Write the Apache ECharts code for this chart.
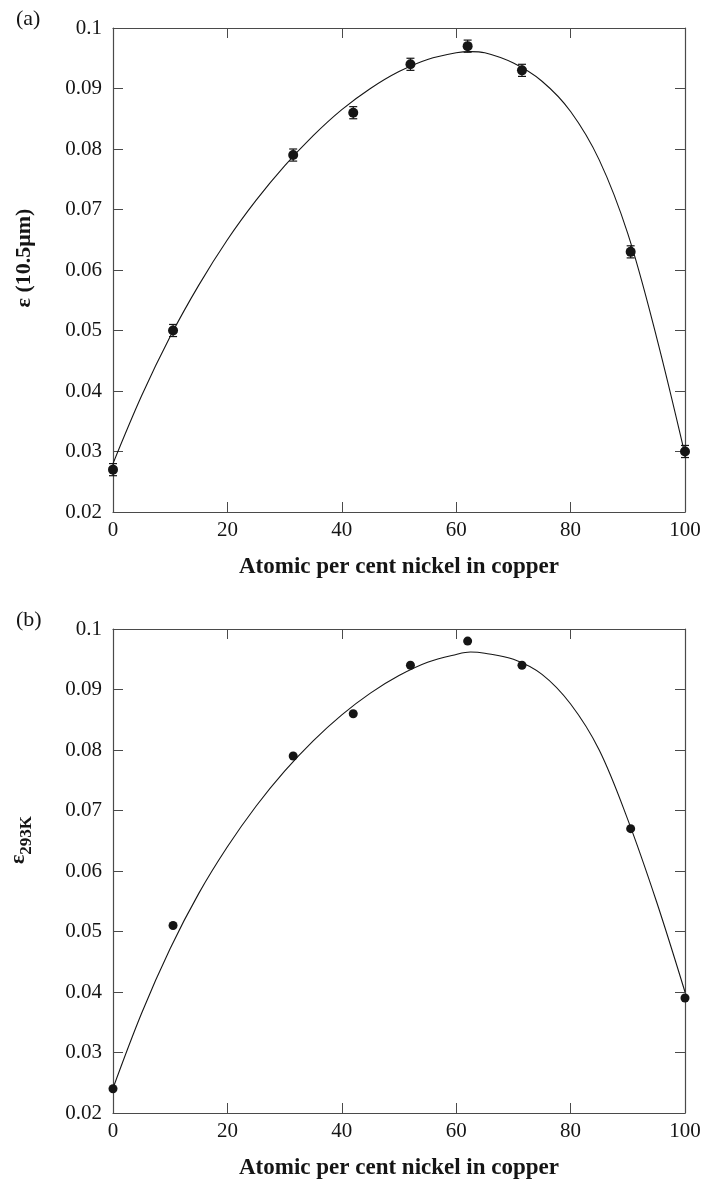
<!DOCTYPE html>
<html>
<head>
<meta charset="utf-8">
<script src="https://cdn.jsdelivr.net/npm/echarts@6/dist/echarts.min.js"></script>
<style>
  html, body { margin: 0; padding: 0; background: #fff; }
  #chart { width: 704px; height: 1187px; }
</style>
</head>
<body>
<div id="chart"></div>
<script>
// measured points (atomic % Ni in Cu)
const nickel = [0, 10.5, 31.5, 42, 52, 62, 71.5, 90.5, 100];
// (a) emissivity at 10.5 um, with error
const emis105 = [0.027, 0.050, 0.079, 0.086, 0.094, 0.097, 0.093, 0.063, 0.030];
const emis105Err = [0.001, 0.001, 0.001, 0.001, 0.001, 0.001, 0.001, 0.001, 0.001];
// (b) total emissivity at 293 K
const emis293 = [0.024, 0.051, 0.079, 0.086, 0.094, 0.098, 0.094, 0.067, 0.039];

// fitted curves
const fitX = [0, 5, 10, 15, 20, 25, 30, 35, 40, 45, 50, 55, 60, 62.5, 65, 70, 75, 80, 85, 90, 95, 100];
const fitA = [0.028, 0.0392, 0.049, 0.0575, 0.065, 0.0715, 0.0772, 0.0822, 0.0865, 0.090, 0.0928, 0.0948,
  0.0959, 0.0961, 0.0959, 0.0942, 0.0912, 0.0862, 0.0782, 0.066, 0.049, 0.0295];
const fitB = [0.0241, 0.0365, 0.0472, 0.0563, 0.064, 0.0707, 0.0765, 0.0815, 0.0858, 0.0894, 0.0923, 0.0945,
  0.0958, 0.0962, 0.0960, 0.0950, 0.0925, 0.0876, 0.080, 0.0685, 0.055, 0.040];

const xTicks = [0, 20, 40, 60, 80, 100];
const yMin = 0.02, yMax = 0.1, yStep = 0.01;

const serif = '"Liberation Serif", "DejaVu Serif", serif';
const ink = '#151515';
const frame = '#4a4a4a';

const chart = echarts.init(document.getElementById('chart'));

const grids = [
  {left: 113, right: 19, top: 28, height: 484, outerBoundsMode: 'none'},
  {left: 113, right: 19, top: 629, height: 484, outerBoundsMode: 'none'}
];

function xAxisFor(gridIndex, mirror) {
  return {
    type: 'value', gridIndex: gridIndex,
    position: mirror ? 'top' : 'bottom',
    min: xTicks[0], max: xTicks[xTicks.length - 1], interval: 20,
    axisLine: {show: true, onZero: false, lineStyle: {color: frame, width: 1.2}},
    axisTick: {show: true, inside: true, length: 10, lineStyle: {color: frame}},
    axisLabel: {show: !mirror, margin: 8, fontFamily: serif, fontSize: 21, color: ink},
    splitLine: {show: false},
    name: mirror ? '' : 'Atomic per cent nickel in copper',
    nameLocation: 'middle', nameGap: 44,
    nameTextStyle: {fontFamily: serif, fontSize: 23, fontWeight: 'bold', color: ink}
  };
}

function yAxisFor(gridIndex, mirror, name, extra) {
  return {
    type: 'value', gridIndex: gridIndex,
    position: mirror ? 'right' : 'left',
    min: yMin, max: yMax, interval: yStep,
    axisLine: {show: true, onZero: false, lineStyle: {color: frame, width: 1.2}},
    axisTick: {show: true, inside: true, length: 10, lineStyle: {color: frame}},
    axisLabel: {show: !mirror, margin: 11, fontFamily: serif, fontSize: 21, color: ink},
    splitLine: {show: false},
    name: mirror ? '' : name,
    nameLocation: 'middle', nameGap: 78, nameRotate: 90,
    nameTextStyle: Object.assign({fontFamily: serif, fontSize: 22, fontWeight: 'bold', color: ink}, extra || {})
  };
}

const pts = (ys) => nickel.map((x, i) => [x, ys[i]]);
const fit = (ys) => fitX.map((x, i) => [x, ys[i]]);

chart.setOption({
  animation: false,
  backgroundColor: '#fff',
  graphic: [
    {type: 'text', left: 16, top: 8, style: {text: '(a)', font: '22px ' + serif, fill: ink}},
    {type: 'text', left: 16, top: 609, style: {text: '(b)', font: '22px ' + serif, fill: ink}}
  ],
  grid: grids,
  xAxis: [xAxisFor(0, false), xAxisFor(0, true), xAxisFor(1, false), xAxisFor(1, true)],
  yAxis: [
    yAxisFor(0, false, 'ε (10.5μm)', {padding: [0, 0, 0, 24]}),
    yAxisFor(0, true),
    yAxisFor(1, false, '{e|ε}{s|293K}', {
      padding: [0, 0, 0, 62],
      rich: {
        e: {fontFamily: serif, fontSize: 22, fontWeight: 'bold', color: ink, lineHeight: 28, verticalAlign: 'top'},
        s: {fontFamily: serif, fontSize: 17, fontWeight: 'bold', color: ink, lineHeight: 28, verticalAlign: 'bottom', padding: [9, 0, 0, 0]}
      }
    }),
    yAxisFor(1, true)
  ],
  series: [
    {
      type: 'line', xAxisIndex: 0, yAxisIndex: 0, data: fit(fitA),
      smooth: 0.35, showSymbol: false, lineStyle: {color: ink, width: 1.1}, z: 2
    },
    {
      type: 'custom', xAxisIndex: 0, yAxisIndex: 0,
      data: nickel.map((x, i) => [x, emis105[i], emis105Err[i]]),
      renderItem: function (params, api) {
        const x = api.value(0), y = api.value(1), e = api.value(2);
        const lo = api.coord([x, y - e]);
        const hi = api.coord([x, y + e]);
        const w = 4;
        const st = {stroke: ink, lineWidth: 1.2};
        return {
          type: 'group',
          children: [
            {type: 'line', shape: {x1: lo[0], y1: lo[1], x2: hi[0], y2: hi[1]}, style: st},
            {type: 'line', shape: {x1: lo[0] - w, y1: lo[1], x2: lo[0] + w, y2: lo[1]}, style: st},
            {type: 'line', shape: {x1: hi[0] - w, y1: hi[1], x2: hi[0] + w, y2: hi[1]}, style: st}
          ]
        };
      },
      z: 3
    },
    {
      type: 'scatter', xAxisIndex: 0, yAxisIndex: 0, data: pts(emis105),
      symbol: 'circle', symbolSize: 10, itemStyle: {color: ink, opacity: 1}, z: 4
    },
    {
      type: 'line', xAxisIndex: 2, yAxisIndex: 2, data: fit(fitB),
      smooth: 0.35, showSymbol: false, lineStyle: {color: ink, width: 1.1}, z: 2
    },
    {
      type: 'scatter', xAxisIndex: 2, yAxisIndex: 2, data: pts(emis293),
      symbol: 'circle', symbolSize: 9, itemStyle: {color: ink, opacity: 1}, z: 4
    }
  ]
});
</script>
</body>
</html>
